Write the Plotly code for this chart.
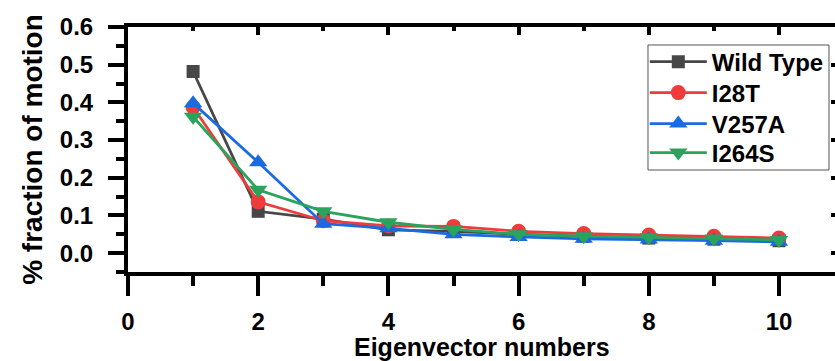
import plotly.graph_objects as go

eigen = [1, 2, 3, 4, 5, 6, 7, 8, 9, 10]
wild_type = [0.482, 0.111, 0.090, 0.062, 0.058, 0.050, 0.045, 0.040, 0.037, 0.033]
i28t = [0.387, 0.136, 0.086, 0.072, 0.071, 0.058, 0.052, 0.048, 0.045, 0.040]
v257a = [0.398, 0.241, 0.078, 0.066, 0.050, 0.043, 0.038, 0.036, 0.033, 0.030]
i264s = [0.362, 0.168, 0.111, 0.082, 0.063, 0.050, 0.045, 0.042, 0.039, 0.035]

series = [
    ("Wild Type", wild_type, "#474747", "square", 13),
    ("I28T", i28t, "#ee3b3b", "circle", 15),
    ("V257A", v257a, "#1c6ae0", "triangle-up", 16),
    ("I264S", i264s, "#2aa35c", "triangle-down", 16),
]

FONT = "Liberation Sans, Arial, sans-serif"
legend_ids = ["legend", "legend2", "legend3", "legend4"]
legend_rows = [0.857, 0.7306, 0.604, 0.4857]

fig = go.Figure()
for (name, vals, col, sym, sz), lid in zip(series, legend_ids):
    fig.add_trace(go.Scatter(
        x=eigen, y=vals, name=name, mode="lines+markers",
        line=dict(color=col, width=2.8),
        marker=dict(symbol=sym, size=sz, color=col),
        cliponaxis=False, legend=lid,
    ))
# empty trace to register the mirrored (top/right) tick axes
fig.add_trace(go.Scatter(x=[], y=[], xaxis="x2", yaxis="y2", showlegend=False, hoverinfo="skip"))

xr = [0, 10.86]
yr = [-0.05, 0.6]

legend_layout = {}
for lid, ly in zip(legend_ids, legend_rows):
    legend_layout[lid] = dict(
        x=0.731, y=ly, xanchor="left", yanchor="middle",
        borderwidth=0, bgcolor="rgba(0,0,0,0)",
        font=dict(family=FONT, size=24, weight="bold", color="black"),
        itemwidth=57,
    )

fig.update_layout(
    template="none",
    width=835, height=361, autosize=False,
    margin=dict(l=128, r=0, t=27, b=89, pad=0, autoexpand=False),
    paper_bgcolor="white", plot_bgcolor="white",
    font=dict(family=FONT, color="black"),
    showlegend=True,
    **legend_layout,
    xaxis=dict(
        range=xr, showgrid=False, zeroline=False, automargin=False,
        showline=True, linewidth=4, linecolor="black", mirror=True,
        ticks="outside", ticklen=20, tickwidth=4, tickcolor="black",
        tick0=0, dtick=2,
        minor=dict(ticks="outside", ticklen=10, tickwidth=4, tickcolor="black", dtick=1, tick0=0, showgrid=False),
        tickfont=dict(family=FONT, size=24, weight="bold"),
        ticklabelstandoff=5,
    ),
    yaxis=dict(
        range=yr, showgrid=False, zeroline=False, automargin=False,
        showline=True, linewidth=4, linecolor="black", mirror=False,
        ticks="outside", ticklen=16, tickwidth=4, tickcolor="black",
        tick0=0, dtick=0.1, tickformat=".1f",
        minor=dict(ticks="outside", ticklen=8, tickwidth=4, tickcolor="black", dtick=0.05, tick0=0, showgrid=False),
        tickfont=dict(family=FONT, size=24, weight="bold"),
        ticklabelstandoff=10,
        title=dict(text="% fraction of motion", standoff=10,
                   font=dict(family=FONT, size=28, weight="bold")),
    ),
    xaxis2=dict(
        range=xr, overlaying="x", anchor="y2", side="top", automargin=False,
        showgrid=False, zeroline=False, showline=False, showticklabels=False,
        ticks="inside", ticklen=8, tickwidth=4, tickcolor="black",
        tick0=0, dtick=2,
        minor=dict(ticks="inside", ticklen=4, tickwidth=4, tickcolor="black", dtick=1, tick0=0, showgrid=False),
    ),
    yaxis2=dict(
        range=yr, overlaying="y", anchor="x2", side="right", automargin=False,
        showgrid=False, zeroline=False, showline=False, showticklabels=False,
        ticks="inside", ticklen=4, tickwidth=4, tickcolor="black",
        tick0=0, dtick=0.1,
    ),
    shapes=[dict(
        type="rect", xref="paper", yref="paper",
        x0=0.7355, x1=0.9915, y0=0.4163, y1=0.9265,
        line=dict(color="#555555", width=1), fillcolor="rgba(0,0,0,0)", layer="below",
    )],
    annotations=[dict(
        text="Eigenvector numbers", xref="paper", yref="paper",
        x=0.5, y=-0.308, xanchor="center", yanchor="middle", showarrow=False,
        font=dict(family=FONT, size=25, weight="bold", color="black"),
    )],
)

fig.write_html("out.html")
